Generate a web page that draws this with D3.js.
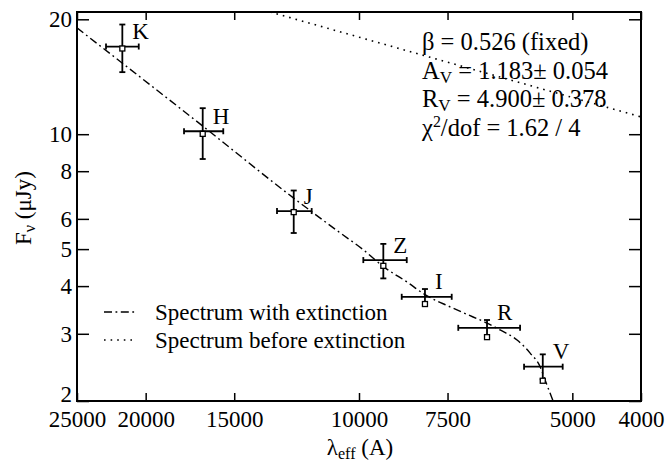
<!DOCTYPE html>
<html>
<head>
<meta charset="utf-8">
<script src="https://cdn.jsdelivr.net/npm/d3@7"></script>
<style>
  html, body { margin: 0; padding: 0; background: #fff; }
  svg { display: block; font-family: "Liberation Serif", "Times New Roman", serif; }
</style>
</head>
<body>
<svg id="chart" width="668" height="463"></svg>
<script>
// ---------- data ----------
const bands      = ["K", "H", "J", "Z", "I", "R", "V"];
const lambdaEff  = [21576, 16617, 12363, 9240, 8071, 6597, 5504];
const lambdaMax  = [22751, 17657, 13053, 9861, 8704, 7243, 5849];
const lambdaMin  = [20455, 15543, 11662, 8563, 7399, 5925, 5159];
const fluxObs    = [16.97, 10.18, 6.29, 4.68, 3.75, 3.11, 2.46];
const fluxHi     = [19.38, 11.70, 7.12, 5.16, 3.93, 3.26, 2.65];
const fluxLo     = [14.54, 8.61, 5.51, 4.19, 3.58, 2.97, 2.28];
const fluxModel  = [16.77, 10.02, 6.25, 4.52, 3.59, 2.94, 2.26];

const extLambda  = [25000, 16764, 12363, 10639, 9861, 9240, 8556, 8071, 7440, 6902, 6597, 6323, 5983, 5735, 5552, 5463, 5323];
const extFlux    = [18.99, 10.64, 6.80, 5.52, 4.98, 4.50, 4.10, 3.80, 3.53, 3.32, 3.20, 3.07, 2.89, 2.67, 2.46, 2.27, 2.00];

const rawLambda  = [13350, 4000];
const rawFlux    = [20.9, 11.1];

const xTicks = [25000, 20000, 15000, 10000, 7500, 5000, 4000];
const yTicks = [2, 3, 4, 5, 6, 8, 10, 20];

const legendLabels = ["Spectrum with extinction", "Spectrum before extinction"];

// ---------- layout ----------
const W = 668, H = 463;
const m = { left: 77, right: 27, top: 12, bottom: 62 };
const FS = 23;
const FSA = 24.5;

const svg = d3.select("#chart");
const x = d3.scaleLog().domain([25000, 4000]).range([m.left, W - m.right]);
const y = d3.scaleLog().domain([2, 20.9]).range([H - m.bottom, m.top]);

svg.append("defs").append("clipPath").attr("id", "plotclip")
  .append("rect").attr("x", m.left).attr("y", m.top)
  .attr("width", W - m.left - m.right).attr("height", H - m.top - m.bottom);

// axes
const gB = svg.append("g").attr("transform", `translate(0,${H - m.bottom})`)
  .call(d3.axisBottom(x).tickValues(xTicks).tickFormat(d3.format("d")).tickSize(-8).tickPadding(10));
const gT = svg.append("g").attr("transform", `translate(0,${m.top})`)
  .call(d3.axisTop(x).tickValues(xTicks).tickFormat("").tickSize(-8));
const gL = svg.append("g").attr("transform", `translate(${m.left},0)`)
  .call(d3.axisLeft(y).tickValues(yTicks).tickFormat(d3.format("d")).tickSize(-12).tickPadding(5));
const gR = svg.append("g").attr("transform", `translate(${W - m.right},0)`)
  .call(d3.axisRight(y).tickValues(yTicks).tickFormat("").tickSize(-12));

[gB, gT, gL, gR].forEach(g => {
  g.attr("font-family", null);
  g.select(".domain").remove();
  g.selectAll(".tick line").attr("stroke", "#000").attr("stroke-width", 1.5);
  g.selectAll(".tick text").attr("fill", "#000").attr("font-size", FS);
});
// keep bottom label "2" inside the frame height
gL.selectAll(".tick text").filter(d => d === 2).attr("dy", "0.0em");

// frame
svg.append("rect").attr("x", m.left).attr("y", m.top)
  .attr("width", W - m.left - m.right).attr("height", H - m.top - m.bottom)
  .attr("fill", "none").attr("stroke", "#000").attr("stroke-width", 2);

// curves
const plot = svg.append("g").attr("clip-path", "url(#plotclip)");
const line = d3.line().x(d => x(d[0])).y(d => y(d[1])).curve(d3.curveMonotoneX);

plot.append("path").datum(d3.zip(extLambda, extFlux))
  .attr("d", line).attr("fill", "none").attr("stroke", "#000")
  .attr("stroke-width", 1.4).attr("stroke-dasharray", "8,3.5,1.8,3.5");

plot.append("path").datum(d3.zip(rawLambda, rawFlux))
  .attr("d", d3.line().x(d => x(d[0])).y(d => y(d[1])))
  .attr("fill", "none").attr("stroke", "#000")
  .attr("stroke-width", 1.6).attr("stroke-dasharray", "1.6,5");

// error bars
const pts = bands.map((b, i) => ({ b, l: lambdaEff[i], l0: lambdaMax[i], l1: lambdaMin[i],
  f: fluxObs[i], fh: fluxHi[i], fl: fluxLo[i], fm: fluxModel[i] }));
const eb = svg.append("g").attr("stroke", "#000").attr("stroke-width", 1.8);
const cap = 3;
pts.forEach(p => {
  const cx = x(p.l), cy = y(p.f);
  eb.append("line").attr("x1", x(p.l0)).attr("x2", x(p.l1)).attr("y1", cy).attr("y2", cy);
  eb.append("line").attr("x1", x(p.l0)).attr("x2", x(p.l0)).attr("y1", cy - cap).attr("y2", cy + cap);
  eb.append("line").attr("x1", x(p.l1)).attr("x2", x(p.l1)).attr("y1", cy - cap).attr("y2", cy + cap);
  eb.append("line").attr("x1", cx).attr("x2", cx).attr("y1", y(p.fh)).attr("y2", y(p.fl));
  eb.append("line").attr("x1", cx - cap).attr("x2", cx + cap).attr("y1", y(p.fh)).attr("y2", y(p.fh));
  eb.append("line").attr("x1", cx - cap).attr("x2", cx + cap).attr("y1", y(p.fl)).attr("y2", y(p.fl));
});
// model squares
svg.append("g").selectAll("rect").data(pts).join("rect")
  .attr("x", d => x(d.l) - 2.5).attr("y", d => y(d.fm) - 2.5)
  .attr("width", 5).attr("height", 5)
  .attr("fill", "#fff").attr("stroke", "#000").attr("stroke-width", 1.3);
// band labels
svg.append("g").selectAll("text").data(pts).join("text")
  .attr("x", d => x(d.l) + 10).attr("y", d => y(d.f) - 7.5)
  .attr("font-size", FS).text(d => d.b);

// annotation
const ann = svg.append("g").attr("font-size", FSA);
const ax = 422;
ann.append("text").attr("x", ax).attr("y", 50).text("β = 0.526 (fixed)");
const t2 = ann.append("text").attr("x", ax).attr("y", 78.5);
t2.append("tspan").text("A");
t2.append("tspan").attr("font-size", FSA * 0.7).attr("dy", 4).text("V");
t2.append("tspan").attr("dy", -4).text(" = 1.183± 0.054");
const t3 = ann.append("text").attr("x", ax).attr("y", 107);
t3.append("tspan").text("R");
t3.append("tspan").attr("font-size", FSA * 0.7).attr("dy", 4).text("V");
t3.append("tspan").attr("dy", -4).text(" = 4.900± 0.378");
const t4 = ann.append("text").attr("x", ax).attr("y", 136);
t4.append("tspan").text("χ");
t4.append("tspan").attr("font-size", FSA * 0.65).attr("dy", -9).text("2");
t4.append("tspan").attr("dy", 9).text("/dof = 1.62 / 4");

// legend
const lg = svg.append("g");
const legY = [320, 348];
lg.append("line").attr("x1", 104).attr("x2", 137).attr("y1", legY[0] - 8).attr("y2", legY[0] - 8)
  .attr("stroke", "#000").attr("stroke-width", 1.4).attr("stroke-dasharray", "8,3.5,1.8,3.5");
lg.append("line").attr("x1", 104).attr("x2", 137).attr("y1", legY[1] - 8).attr("y2", legY[1] - 8)
  .attr("stroke", "#000").attr("stroke-width", 1.6).attr("stroke-dasharray", "1.6,5");
legendLabels.forEach((t, i) => {
  lg.append("text").attr("x", 155).attr("y", legY[i]).attr("font-size", FS).text(t);
});

// axis titles
const xt = svg.append("text").attr("x", 360).attr("y", 455).attr("text-anchor", "middle").attr("font-size", FS);
xt.append("tspan").text("λ");
xt.append("tspan").attr("font-size", FS * 0.7).attr("dy", 4).text("eff");
xt.append("tspan").attr("dy", -4).text(" (A)");

const yt = svg.append("text").attr("transform", "translate(31,208) rotate(-90)")
  .attr("text-anchor", "middle").attr("font-size", FS);
yt.append("tspan").text("F");
yt.append("tspan").attr("font-size", FS * 0.7).attr("dy", 4).text("ν");
yt.append("tspan").attr("dy", -4).text(" (μJy)");
</script>
</body>
</html>
